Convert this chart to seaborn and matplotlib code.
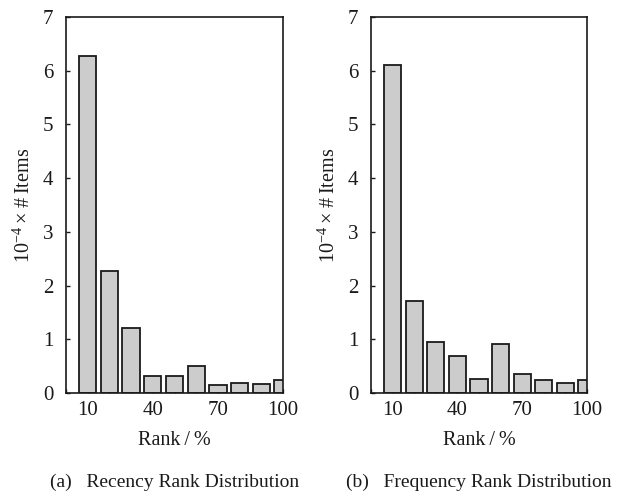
import matplotlib
matplotlib.use("Agg")
import matplotlib.pyplot as plt
import seaborn as sns
import pandas as pd
from matplotlib.ticker import MultipleLocator, FixedLocator

sns.set_style("white")
plt.rcParams['font.family'] = ['Liberation Serif', 'DejaVu Serif']
plt.rcParams['mathtext.fontset'] = 'custom'
plt.rcParams['mathtext.rm'] = 'Liberation Serif'
plt.rcParams['mathtext.it'] = 'Liberation Serif:italic'

ranks = [10, 20, 30, 40, 50, 60, 70, 80, 90, 100]
recency = [6.27, 2.27, 1.21, 0.32, 0.32, 0.51, 0.14, 0.18, 0.16, 0.24]
frequency = [6.10, 1.71, 0.94, 0.68, 0.26, 0.92, 0.35, 0.24, 0.19, 0.24]
xtick_labels = [10, 40, 70, 100]
captions = ["(a)   Recency Rank Distribution", "(b)   Frequency Rank Distribution"]

fig = plt.figure(figsize=(6.21, 4.94), dpi=100)
axes = [fig.add_axes([0.1063, 0.2045, 0.3494, 0.7611]),
        fig.add_axes([0.5974, 0.2045, 0.3478, 0.7611])]

for ax, vals, cap in zip(axes, [recency, frequency], captions):
    df = pd.DataFrame({"rank": ranks, "items": vals})
    sns.barplot(data=df, x="rank", y="items", native_scale=True, width=0.8,
                color="#cccccc", saturation=1, edgecolor="#1a1a1a",
                linewidth=1.3, ax=ax)
    ax.set_xlim(0, 100)
    ax.set_ylim(0, 7)
    ax.xaxis.set_major_locator(FixedLocator(xtick_labels))
    ax.xaxis.set_minor_locator(MultipleLocator(10))
    ax.yaxis.set_major_locator(MultipleLocator(1))
    ax.tick_params(axis='both', which='both', direction='in', length=3,
                   width=1, top=False, right=False, labelsize=15,
                   bottom=True, left=True, colors='#1a1a1a')
    ax.tick_params(axis='x', which='major', pad=6)
    ax.tick_params(axis='y', which='major', pad=9)
    for s in ax.spines.values():
        s.set_linewidth(1.2)
        s.set_color('#1a1a1a')
    ax.set_xlabel("Rank\u2009/\u2009%", fontsize=14.5, labelpad=8, color='#1a1a1a')
    ax.set_ylabel("10$^{-4}$\u2009×\u2009#\u2009Items", fontsize=14.5, labelpad=6,
                  color='#1a1a1a')
    pos = ax.get_position()
    fig.text((pos.x0 + pos.x1) / 2, 1 - 482 / 494, cap, ha='center', va='center',
             fontsize=14, color='#1a1a1a')

fig.savefig("out.png", dpi=100)
